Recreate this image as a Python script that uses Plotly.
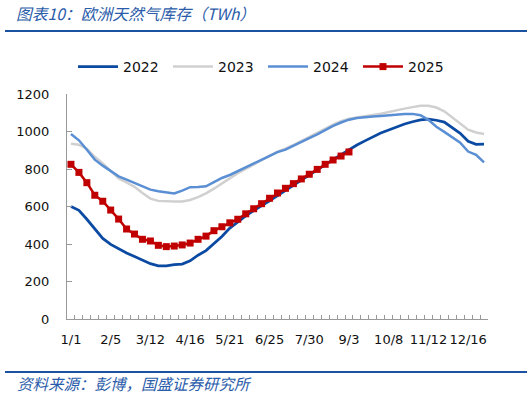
import plotly.graph_objects as go

categories = ["1/1", "1/8", "1/15", "1/22", "1/29", "2/5", "2/12", "2/19", "2/26",
              "3/5", "3/12", "3/19", "3/26", "4/2", "4/9", "4/16", "4/23", "4/30",
              "5/7", "5/14", "5/21", "5/28", "6/4", "6/11", "6/18", "6/25",
              "7/2", "7/9", "7/16", "7/23", "7/30", "8/6", "8/13", "8/20", "8/27",
              "9/3", "9/10", "9/17", "9/24", "10/1", "10/8", "10/15", "10/22", "10/29",
              "11/5", "11/12", "11/19", "11/26", "12/3", "12/10", "12/16", "12/23", "12/30"]
tick_labels = ["1/1", "2/5", "3/12", "4/16", "5/21", "6/25", "7/30", "9/3", "10/8", "11/12", "12/16"]

y2022 = [600, 580, 532, 478, 430, 398, 373, 352, 333, 312, 295, 284, 284, 290, 293, 310,
         340, 365, 400, 440, 485, 518, 550, 578, 603, 630, 658, 686, 714, 740, 768, 796,
         824, 850, 877, 903, 928, 950, 973, 992, 1008, 1025, 1040, 1052, 1062, 1066, 1060,
         1050, 1022, 990, 948, 932, 933]
y2023 = [935, 929, 908, 865, 830, 790, 750, 728, 705, 672, 642, 630, 627, 627, 627, 635,
         650, 670, 695, 722, 750, 778, 800, 822, 848, 870, 893, 908, 928, 950, 972, 995,
         1015, 1037, 1055, 1068, 1075, 1080, 1088, 1095, 1105, 1115, 1122, 1130, 1137, 1137,
         1128, 1108, 1075, 1040, 1010, 995, 987]
y2024 = [987, 953, 903, 850, 818, 788, 761, 743, 724, 707, 690, 681, 676, 670, 685, 703,
         704, 708, 730, 752, 768, 788, 806, 828, 848, 870, 890, 903, 925, 945, 965, 985,
         1008, 1030, 1048, 1063, 1072, 1077, 1080, 1083, 1087, 1090, 1093, 1094, 1087, 1062,
         1025, 998, 970, 940, 893, 876, 835]
y2025 = [825, 782, 727, 660, 628, 581, 533, 480, 453, 425, 416, 393, 386, 389, 395, 405,
         425, 442, 471, 492, 513, 532, 561, 588, 615, 644, 672, 697, 722, 747, 772, 798,
         825, 848, 869, 891]

# plot-area geometry in pixels
L, R, T, B = 67, 488, 94, 319
W, H = R - L, B - T


def px_x(px):
    return (px - L) / W


def px_y(py):
    return (B - py) / H


fig = go.Figure()
fig.add_trace(go.Scatter(x=categories, y=y2022, name="2022", mode="lines",
                         line=dict(color="#0b4aa2", width=2.75)))
fig.add_trace(go.Scatter(x=categories, y=y2023, name="2023", mode="lines",
                         line=dict(color="#d0d0d0", width=2.5)))
fig.add_trace(go.Scatter(x=categories, y=y2024, name="2024", mode="lines",
                         line=dict(color="#5b8fd4", width=2.5)))
fig.add_trace(go.Scatter(x=categories[:len(y2025)], y=y2025, name="2025", mode="lines+markers",
                         line=dict(color="#c00000", width=2.5),
                         marker=dict(symbol="square", size=7, color="#c00000")))

ticktext = [c if c in tick_labels else "" for c in categories]

fig.update_layout(
    width=532, height=397,
    margin=dict(l=L, r=532 - R, t=T, b=397 - B, pad=0, autoexpand=False),
    paper_bgcolor="white", plot_bgcolor="white",
    font=dict(family="DejaVu Sans", size=13, color="#111111"),
    showlegend=True,
    legend=dict(orientation="h", x=px_x(73), xanchor="left", y=px_y(67), yanchor="middle",
                entrywidth=40, entrywidthmode="pixels", itemwidth=40,
                font=dict(size=14, color="#111111"),
                bgcolor="rgba(0,0,0,0)", tracegroupgap=0),
    xaxis=dict(type="category", range=[-0.5, len(categories) - 0.5], autorange=False,
               tickmode="array", tickvals=categories, ticktext=ticktext,
               tickson="boundaries", ticks="inside", ticklen=4, tickcolor="#999999",
               showline=True, linecolor="#999999", linewidth=1, showgrid=False,
               zeroline=False, tickangle=0, ticklabelstandoff=8, automargin=False,
               tickfont=dict(size=13, color="#111111")),
    yaxis=dict(range=[0, 1200], autorange=False, dtick=200, tick0=0, ticks="inside", ticklen=5,
               tickcolor="#999999", showline=True, linecolor="#999999", linewidth=1,
               showgrid=False, zeroline=False, ticklabelstandoff=14, automargin=False,
               tickfont=dict(size=13, color="#111111")),
)

fig.add_annotation(xref="paper", yref="paper", x=px_x(14), y=px_y(14), xanchor="left",
                   yanchor="middle", showarrow=False,
                   text="图表10：欧洲天然气库存（TWh）",
                   font=dict(family="Noto Sans CJK SC", size=15.75, color="#2a5caa", style="italic"))
fig.add_annotation(xref="paper", yref="paper", x=px_x(15), y=px_y(383), xanchor="left",
                   yanchor="middle", showarrow=False,
                   text="资料来源：彭博，国盛证券研究所",
                   font=dict(family="Noto Sans CJK SC", size=15.5, color="#2a5caa", style="italic"))
fig.add_shape(type="line", xref="paper", yref="paper", x0=px_x(5), x1=px_x(527),
              y0=px_y(31), y1=px_y(31), line=dict(color="#1a52a0", width=2))
fig.add_shape(type="line", xref="paper", yref="paper", x0=px_x(5), x1=px_x(527),
              y0=px_y(372), y1=px_y(372), line=dict(color="#1a52a0", width=2))

fig.write_html("out.html", config={"displayModeBar": False},
               post_script="document.body.style.margin='0';")
